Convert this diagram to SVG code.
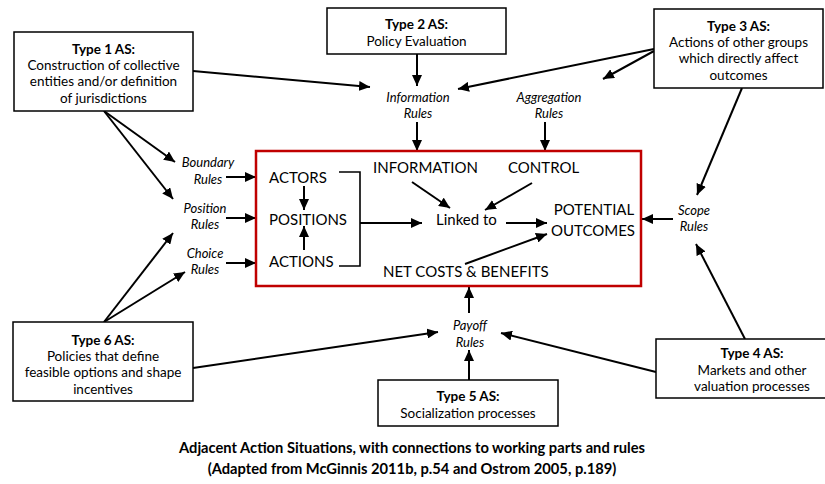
<svg xmlns="http://www.w3.org/2000/svg" width="825" height="484" viewBox="0 0 825 484">
  <style>
    text { font-family: Lato, "Open Sans", "Liberation Sans", sans-serif; fill: #000; }
    .box { fill: #fff; stroke: #000; stroke-width: 1.5; }
    .as { font-size: 13.5px; text-anchor: middle; }
    .hd { font-weight: bold; }
    .rule { font-size: 13px; font-style: italic; text-anchor: middle; }
    .core { font-size: 15px; }
    .edge { fill: none; stroke: #000; stroke-width: 2; marker-end: url(#arrow); }
    .plain { fill: none; stroke: #000; stroke-width: 1.6; }
    .title { font-size: 14.7px; font-weight: bold; text-anchor: middle; }
  </style>
  <defs>
    <marker id="arrow" markerUnits="userSpaceOnUse" markerWidth="12" markerHeight="10" refX="11" refY="5" orient="auto">
      <path d="M0,0 L11,5 L0,10 z" fill="#000"/>
    </marker>
  </defs>
  <rect width="825" height="484" fill="#fff"/>

  <!-- connectors -->
  <g id="connectors">
    <!-- Type 1 -->
    <line class="edge" x1="193" y1="71" x2="370" y2="87"/>
    <line class="edge" x1="104" y1="111" x2="175" y2="162"/>
    <line class="edge" x1="104" y1="111" x2="173" y2="199"/>
    <!-- Type 2 -->
    <line class="edge" x1="417" y1="54" x2="417" y2="86"/>
    <!-- Type 3 -->
    <line class="edge" x1="654" y1="49" x2="458" y2="89"/>
    <line class="edge" x1="654" y1="51" x2="603" y2="79"/>
    <line class="edge" x1="742" y1="88" x2="697" y2="195"/>
    <!-- Type 4 -->
    <line class="edge" x1="745" y1="339" x2="696" y2="244"/>
    <line class="edge" x1="656" y1="372" x2="501" y2="333"/>
    <!-- Type 5 -->
    <line class="edge" x1="469" y1="380" x2="469" y2="350"/>
    <!-- Type 6 -->
    <line class="edge" x1="104" y1="322" x2="173" y2="233"/>
    <line class="edge" x1="104" y1="322" x2="185" y2="272"/>
    <line class="edge" x1="193" y1="368" x2="438" y2="332"/>
    <!-- rules into the action situation -->
    <line class="edge" x1="417" y1="122" x2="417" y2="151"/>
    <line class="edge" x1="545" y1="122" x2="545" y2="151"/>
    <line class="edge" x1="226" y1="177" x2="256" y2="177"/>
    <line class="edge" x1="226" y1="218" x2="256" y2="218"/>
    <line class="edge" x1="226" y1="263" x2="256" y2="263"/>
    <line class="edge" x1="673" y1="219" x2="642" y2="219"/>
    <line class="edge" x1="469" y1="313" x2="469" y2="287"/>
    <!-- inside the action situation -->
    <line class="edge" x1="304" y1="186" x2="304" y2="210"/>
    <line class="edge" x1="304" y1="250" x2="304" y2="226"/>
    <polyline class="plain" points="339,172 360,172 360,266 339,266"/>
    <line class="edge" x1="360" y1="223" x2="422" y2="223"/>
    <line class="edge" x1="412" y1="182" x2="450" y2="208"/>
    <line class="edge" x1="532" y1="183" x2="485" y2="210"/>
    <line class="edge" x1="506" y1="223" x2="547" y2="223"/>
    <line class="edge" x1="465" y1="264" x2="547" y2="234"/>
  </g>

  <!-- action situation -->
  <g id="action-situation">
    <rect x="256" y="151" width="385" height="135" fill="none" stroke="#c00000" stroke-width="2.5"/>
    <text class="core" x="269" y="183">ACTORS</text>
    <text class="core" x="269" y="225">POSITIONS</text>
    <text class="core" x="269" y="267">ACTIONS</text>
    <text class="core" x="373" y="173">INFORMATION</text>
    <text class="core" x="508" y="173">CONTROL</text>
    <text class="core" x="436" y="225">Linked to</text>
    <text class="core" x="594" y="215" text-anchor="middle">POTENTIAL</text>
    <text class="core" x="593" y="236" text-anchor="middle">OUTCOMES</text>
    <text class="core" x="383" y="277">NET COSTS &amp; BENEFITS</text>
  </g>

  <!-- rule labels -->
  <g id="information-rules"><text class="rule" x="418" y="102">Information</text><text class="rule" x="418" y="118">Rules</text></g>
  <g id="aggregation-rules"><text class="rule" x="549" y="102">Aggregation</text><text class="rule" x="549" y="118">Rules</text></g>
  <g id="boundary-rules"><text class="rule" x="208" y="167">Boundary</text><text class="rule" x="208" y="184">Rules</text></g>
  <g id="position-rules"><text class="rule" x="205" y="213">Position</text><text class="rule" x="205" y="229">Rules</text></g>
  <g id="choice-rules"><text class="rule" x="205" y="258">Choice</text><text class="rule" x="205" y="274">Rules</text></g>
  <g id="scope-rules"><text class="rule" x="694" y="215">Scope</text><text class="rule" x="694" y="231">Rules</text></g>
  <g id="payoff-rules"><text class="rule" x="470" y="330">Payoff</text><text class="rule" x="470" y="347">Rules</text></g>

  <!-- adjacent action situations -->
  <g id="type1">
    <rect class="box" x="14" y="32" width="179" height="79"/>
    <text class="as hd" x="103.5" y="54">Type 1 AS:</text>
    <text class="as" x="103.5" y="70">Construction of collective</text>
    <text class="as" x="103.5" y="86">entities and/or definition</text>
    <text class="as" x="103.5" y="103">of jurisdictions</text>
  </g>
  <g id="type2">
    <rect class="box" x="327" y="8" width="179" height="46"/>
    <text class="as hd" x="416.5" y="29">Type 2 AS:</text>
    <text class="as" x="416.5" y="46">Policy Evaluation</text>
  </g>
  <g id="type3">
    <rect class="box" x="654" y="9" width="169" height="79"/>
    <text class="as hd" x="738.5" y="31">Type 3 AS:</text>
    <text class="as" x="738.5" y="47">Actions of other groups</text>
    <text class="as" x="738.5" y="63">which directly affect</text>
    <text class="as" x="738.5" y="80">outcomes</text>
  </g>
  <g id="type4">
    <rect class="box" x="656" y="339" width="194" height="59"/>
    <text class="as hd" x="752" y="358">Type 4 AS:</text>
    <text class="as" x="752" y="375">Markets and other</text>
    <text class="as" x="752" y="391">valuation processes</text>
  </g>
  <g id="type5">
    <rect class="box" x="378" y="380" width="180" height="46"/>
    <text class="as hd" x="468" y="401">Type 5 AS:</text>
    <text class="as" x="468" y="418">Socialization processes</text>
  </g>
  <g id="type6">
    <rect class="box" x="13" y="322" width="180" height="79"/>
    <text class="as hd" x="103" y="345">Type 6 AS:</text>
    <text class="as" x="103" y="361">Policies that define</text>
    <text class="as" x="103" y="377">feasible options and shape</text>
    <text class="as" x="103" y="394">incentives</text>
  </g>

  <!-- caption -->
  <g id="caption">
    <text class="title" x="412" y="453">Adjacent Action Situations, with connections to working parts and rules</text>
    <text class="title" x="412" y="474">(Adapted from McGinnis 2011b, p.54 and Ostrom 2005, p.189)</text>
  </g>
</svg>
